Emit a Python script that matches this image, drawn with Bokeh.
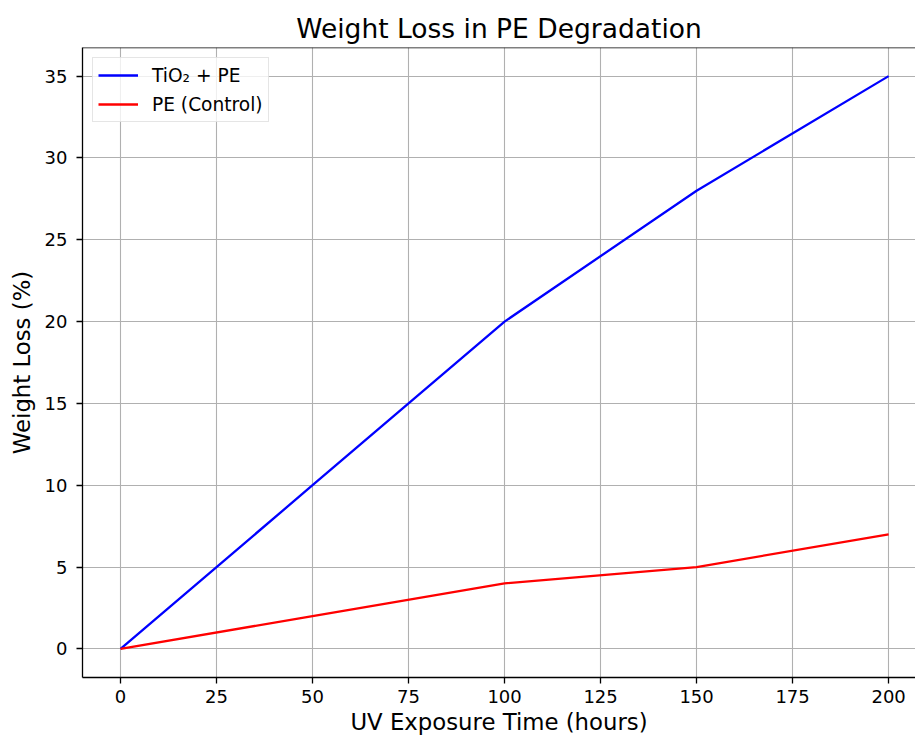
from bokeh.plotting import figure
from bokeh.models import FixedTicker, Legend, LegendItem, Range1d, Span
from bokeh.embed import file_html
from bokeh.resources import INLINE

hours = [0, 50, 100, 150, 200]
tio2_pe = [0, 10, 20, 28, 35]
pe_control = [0, 2, 4, 5, 7]
x_ticks = [0, 25, 50, 75, 100, 125, 150, 175, 200]
y_ticks = [0, 5, 10, 15, 20, 25, 30, 35]

FONT = "DejaVu Sans"
Y_TOP = 36.75

p = figure(width=915, height=738, output_backend="svg", toolbar_location=None,
           x_range=Range1d(-9.9, 207.0), y_range=Range1d(-1.75, Y_TOP),
           min_border_left=82, min_border_right=0, min_border_top=47, min_border_bottom=61)

p.title.text = "Weight Loss in PE Degradation"
p.title.text_font = FONT
p.title.text_font_size = "26.5px"
p.title.text_font_style = "normal"
p.title.align = "center"
p.title.offset = 5
p.title.standoff = 7
p.title.text_color = "#000000"

p.outline_line_color = None
p.background_fill_color = "white"
p.border_fill_color = "white"

xax = p.below[0]
yax = p.left[0]
for ax, ticks in ((xax, x_ticks), (yax, y_ticks)):
    ax.ticker = FixedTicker(ticks=ticks)
    ax.major_tick_out = 6
    ax.major_tick_in = 0
    ax.minor_tick_out = 0
    ax.minor_tick_in = 0
    ax.axis_line_color = "black"
    ax.axis_line_width = 1.3
    ax.major_tick_line_color = "black"
    ax.major_tick_line_width = 1.3
    ax.major_label_text_font = FONT
    ax.major_label_text_font_size = "18px"
    ax.major_label_text_color = "#000000"
    ax.axis_label_text_font = FONT
    ax.axis_label_text_font_size = "22.8px"
    ax.axis_label_text_font_style = "normal"
    ax.axis_label_text_color = "#000000"

xax.axis_label = "UV Exposure Time (hours)"
yax.axis_label = "Weight Loss (%)"
xax.major_label_standoff = 6
yax.major_label_standoff = 9
xax.axis_label_standoff = 3
yax.axis_label_standoff = 7

p.add_layout(Span(location=Y_TOP, dimension="width", line_color="black", line_width=1.3))

p.xgrid.ticker = FixedTicker(ticks=x_ticks)
p.ygrid.ticker = FixedTicker(ticks=y_ticks)
p.grid.grid_line_color = "#b0b0b0"
p.grid.grid_line_width = 1.1

r1 = p.line(hours, tio2_pe, line_color="blue", line_width=2.3)
r2 = p.line(hours, pe_control, line_color="red", line_width=2.3)

legend = Legend(items=[LegendItem(label="TiO₂ + PE", renderers=[r1]),
                       LegendItem(label="PE (Control)", renderers=[r2])],
                location="top_left")
legend.label_text_font = FONT
legend.label_text_font_size = "18.6px"
legend.label_text_color = "#000000"
legend.border_line_color = "#cccccc"
legend.border_line_width = 1
legend.background_fill_alpha = 0.8
legend.glyph_width = 40
legend.glyph_height = 24
legend.label_height = 24
legend.label_standoff = 14
legend.spacing = 5
legend.padding = 5
legend.margin = 10
p.add_layout(legend)

open("out.html", "w").write(file_html(p, INLINE))
